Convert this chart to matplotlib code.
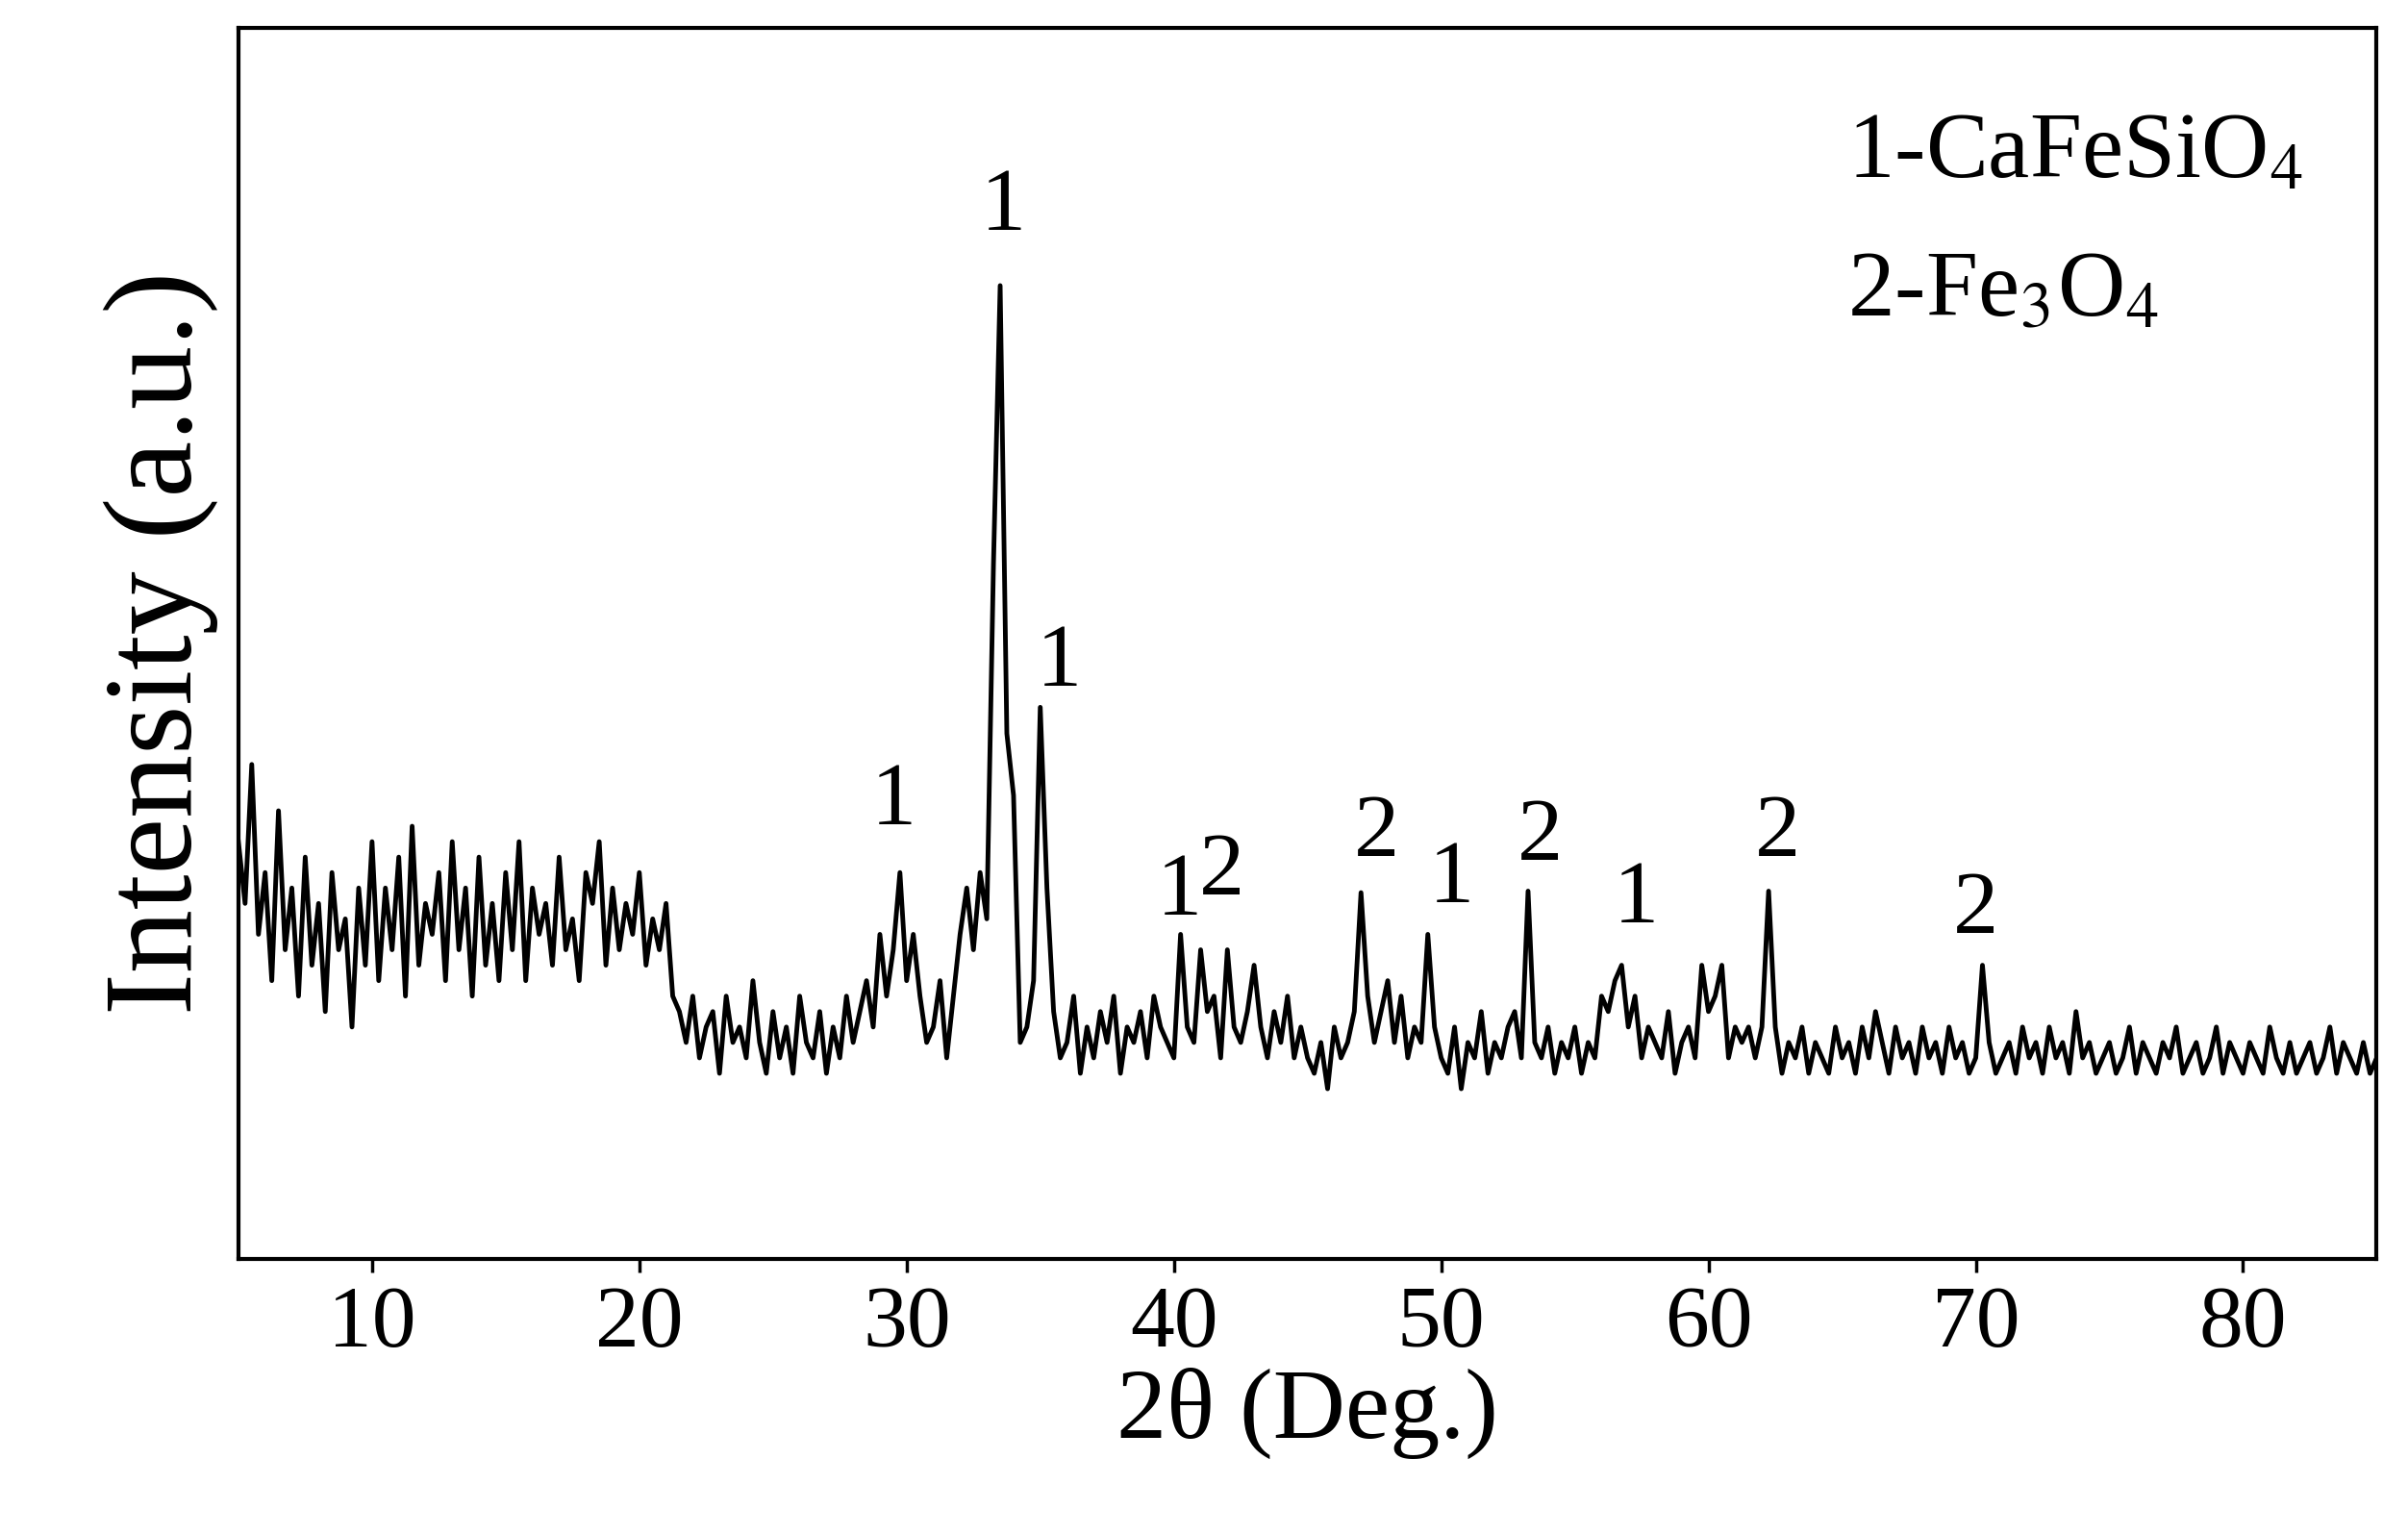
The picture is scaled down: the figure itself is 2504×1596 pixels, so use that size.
import numpy as np
import matplotlib
matplotlib.use("Agg")
import matplotlib.pyplot as plt

plt.rcParams['font.family'] = ['Liberation Serif', 'DejaVu Serif']
plt.rcParams['mathtext.fontset'] = 'stix'

# 2theta from 5 to 85 in 0.25 steps, intensity (arb. units)
two_theta = np.arange(5.0, 85.001, 0.25)
intensity = [
    270, 230, 320, 210, 250, 180, 290, 200, 240, 170, 260, 190, 230, 160, 250, 200, 220, 150, 240, 190,
    270, 180, 240, 200, 260, 170, 280, 190, 230, 210, 250, 180, 270, 200, 240, 170, 260, 190, 230, 180,
    250, 200, 270, 180, 240, 210, 230, 190, 260, 200, 220, 180, 250, 230, 270, 190, 240, 200, 230, 210,
    250, 190, 220, 200, 230, 170, 160, 140, 170, 130, 150, 160, 120, 170, 140, 150, 130, 180, 140, 120,
    160, 130, 150, 120, 170, 140, 130, 160, 120, 150, 130, 170, 140, 160, 180, 150, 210, 170, 200, 250,
    180, 210, 170, 140, 150, 180, 130, 170, 210, 240, 200, 250, 220, 450, 630, 340, 300, 140, 150, 180,
    357, 240, 160, 130, 140, 170, 120, 150, 130, 160, 140, 170, 120, 150, 140, 160, 130, 170, 150, 140,
    130, 210, 150, 140, 200, 160, 170, 130, 200, 150, 140, 160, 190, 150, 130, 160, 140, 170, 130, 150,
    130, 120, 140, 110, 150, 130, 140, 160, 237, 170, 140, 160, 180, 140, 170, 130, 150, 140, 210, 150,
    130, 120, 150, 110, 140, 130, 160, 120, 140, 130, 150, 160, 130, 238, 140, 130, 150, 120, 140, 130,
    150, 120, 140, 130, 170, 160, 180, 190, 150, 170, 130, 150, 140, 130, 160, 120, 140, 150, 130, 190,
    160, 170, 190, 130, 150, 140, 150, 130, 150, 238, 150, 120, 140, 130, 150, 120, 140, 130, 120, 150,
    130, 140, 120, 150, 130, 160, 140, 120, 150, 130, 140, 120, 150, 130, 140, 120, 150, 130, 140, 120,
    130, 190, 140, 120, 130, 140, 120, 150, 130, 140, 120, 150, 130, 140, 120, 160, 130, 140, 120, 130,
    140, 120, 130, 150, 120, 140, 130, 120, 140, 130, 150, 120, 130, 140, 120, 130, 150, 120, 140, 130,
    120, 140, 130, 120, 150, 130, 120, 140, 120, 130, 140, 120, 130, 150, 120, 140, 130, 120, 140, 120, 130,
]

# peak labels: (2theta, height, phase)
peak_x = [33.6, 35.7, 29.5, 40.2, 41.8, 47.6, 50.4, 53.7, 57.3, 62.6, 70.0]
peak_y = [680, 385, 295, 237, 250, 275, 245, 272, 232, 275, 225]
peak_lab = ['1', '1', '1', '1', '2', '2', '1', '2', '1', '2', '2']

fig = plt.figure(figsize=(25.04, 15.96), dpi=100)
ax = fig.add_axes([0.099, 0.18, 0.888, 0.802])
ax.plot(two_theta, intensity, color='black', lw=3.5)

for x, y, s in zip(peak_x, peak_y, peak_lab):
    ax.text(x, y, s, fontsize=68, ha='center', va='center')

ax.text(65.2, 715, '1-CaFeSiO$_4$', fontsize=70, va='center')
ax.text(65.2, 625, '2-Fe$_3$O$_4$', fontsize=70, va='center')

ax.set_xlim(5, 85)
ax.set_ylim(0, 797)
ax.set_xticks(range(10, 81, 10))
ax.set_yticks([])
ax.tick_params(axis='x', labelsize=66, direction='out', length=10, width=2.5, pad=10)
for sp in ax.spines.values():
    sp.set_linewidth(3)
ax.set_xlabel('2θ (Deg.)', fontsize=75, labelpad=2)
ax.set_ylabel('Intensity (a.u.)', fontsize=95, labelpad=15)

fig.savefig('out.png', dpi=100)
